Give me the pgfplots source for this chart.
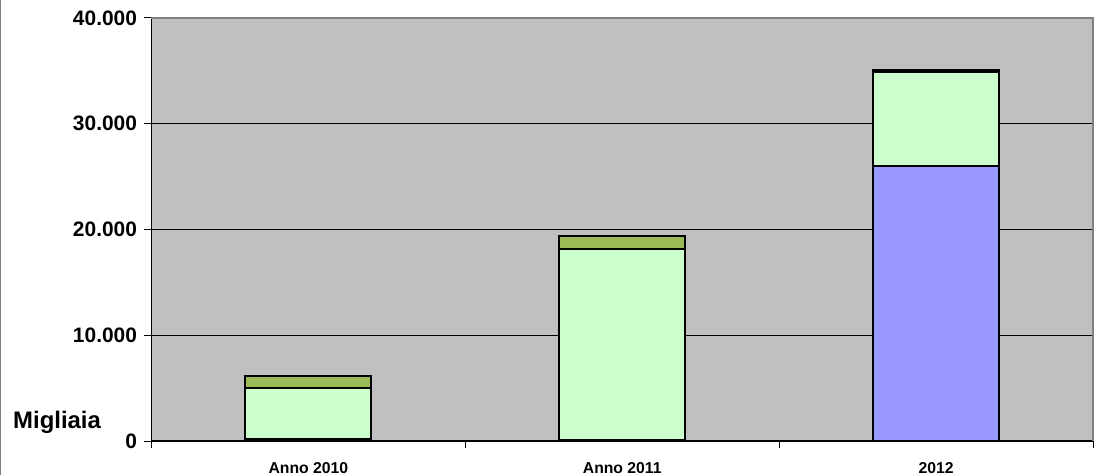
\documentclass[border=0pt]{standalone}
\usepackage{pgfplots}
\pgfplotsset{compat=1.18}
\usepackage{fontspec}
\setmainfont{Liberation Sans}
\definecolor{bgray}{HTML}{C0C0C0}
\definecolor{bordgray}{HTML}{808080}
\definecolor{sblue}{HTML}{9999FF}
\definecolor{slgreen}{HTML}{CCFFCC}
\definecolor{sdgreen}{HTML}{9BBB59}
\newcommand{\yf}{\bfseries\fontsize{21}{24}\selectfont}
\newcommand{\xf}{\bfseries\fontsize{15.8}{18}\selectfont}
\begin{document}
\begin{tikzpicture}
\useasboundingbox (-151.5bp,-34bp) rectangle (943.5bp,441bp);
\draw[bordgray, line width=1.5bp] (-150.75bp,-34bp) -- (-150.75bp,441bp);
\begin{axis}[
  at={(0,0)}, anchor=south west,
  scale only axis,
  width=941.5bp, height=423bp,
  ybar stacked,
  bar width=126bp,
  xmin=-0.5, xmax=2.5,
  ymin=0, ymax=40000,
  xtick={0,1,2},
  xticklabels={Anno 2010,Anno 2011,2012},
  minor xtick={-0.5,0.5,1.5,2.5},
  ytick={0,10000,20000,30000,40000},
  yticklabels={0,10.000,20.000,30.000,40.000},
  scaled y ticks=false,
  xtick pos=lower, ytick pos=left,
  tick align=outside,
  major x tick style={draw=none},
  minor x tick style={black, line width=1bp},
  minor tick length=7bp,
  major tick length=7bp,
  ytick style={black, line width=1bp},
  ymajorgrids,
  major grid style={black, line width=1bp},
  axis line style={draw=none},
  axis background/.style={fill=bgray},
  y tick label style={font=\yf, anchor=east, xshift=-4bp},
  x tick label style={font=\xf, anchor=base, yshift=-25bp},
  every axis plot/.append style={draw=black, line width=2bp},
  clip=false,
]
\addplot[fill=sblue] coordinates {(0,200) (1,60) (2,26000)};
\addplot[fill=slgreen] coordinates {(0,4800) (1,18050) (2,8900)};
\addplot[fill=sdgreen] coordinates {(0,1150) (1,1250) (2,150)};
\draw[bordgray, line width=1.5bp] (rel axis cs:0,1) -- (rel axis cs:1,1) -- (rel axis cs:1,0);
\draw[black, line width=1.2bp] (rel axis cs:0,0) -- (rel axis cs:1,0);
\draw[black, line width=1.2bp] (rel axis cs:0,0) -- (rel axis cs:0,1);
\end{axis}
\node[anchor=base west, inner sep=0pt, font=\bfseries\fontsize{24}{27}\selectfont] at (-138.5bp,13bp) {Migliaia};
\end{tikzpicture}
\end{document}
